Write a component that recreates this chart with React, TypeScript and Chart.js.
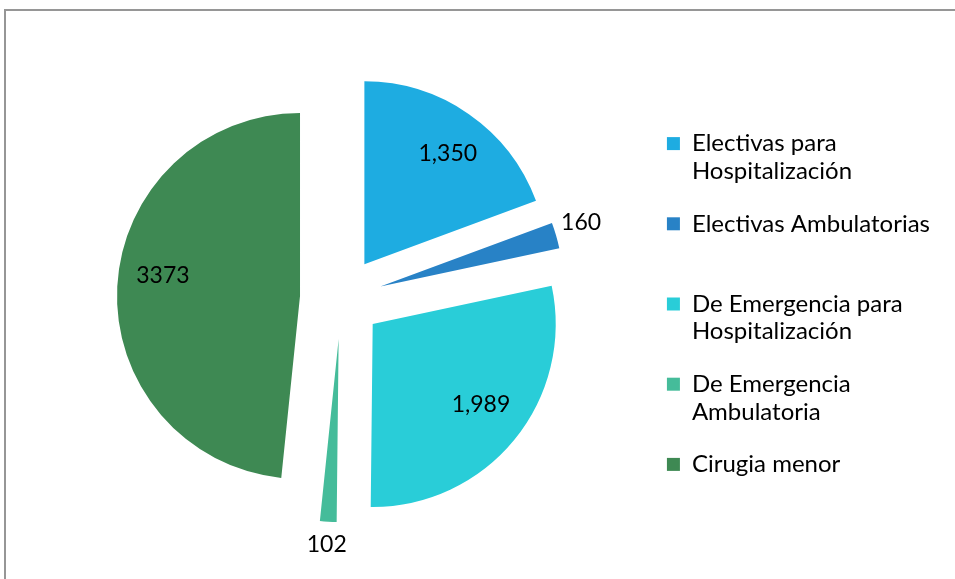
import React, { useEffect, useRef } from 'react';
import { Chart, registerables } from 'chart.js';

Chart.register(...registerables);

// ---- data ----
const categories: (string | string[])[] = [
  ['Electivas para', 'Hospitalización'],
  ['Electivas Ambulatorias', ''],
  ['De Emergencia para', 'Hospitalización'],
  ['De Emergencia', 'Ambulatoria'],
  'Cirugia menor',
];
const values = [1350, 160, 1989, 102, 3373];
const valueLabels = ['1,350', '160', '1,989', '102', '3373'];
const colors = ['#1EACE1', '#2882C6', '#29CDD8', '#45BC9A', '#3E8953'];

// ---- style ----
const EXPLODE = 41;
const RADIUS = 183;
const FONT = 'Lato';
// small visual nudges of the value labels (px)
const labelNudgeX = [5, 0, 2, 0, 0];
const labelNudgeY = [2, -6, -6, -3, -13];

const explodePlugin = {
  id: 'explode',
  afterDatasetUpdate(chart: any, args: any) {
    args.meta.data.forEach((arc: any) => {
      const mid = (arc.startAngle + arc.endAngle) / 2;
      arc.x += Math.cos(mid) * EXPLODE;
      arc.y += Math.sin(mid) * EXPLODE;
    });
  },
};

const labelPlugin = {
  id: 'valueLabels',
  afterDatasetsDraw(chart: any) {
    const ctx = chart.ctx;
    const meta = chart.getDatasetMeta(0);
    const total = values.reduce((a, b) => a + b, 0);
    ctx.save();
    ctx.font = `23px ${FONT}`;
    ctx.fillStyle = '#000';
    ctx.textAlign = 'center';
    ctx.textBaseline = 'middle';
    meta.data.forEach((arc: any, i: number) => {
      const mid = (arc.startAngle + arc.endAngle) / 2;
      const frac = values[i] / total;
      const d = frac < 0.05 ? arc.outerRadius + 26 : arc.outerRadius * 0.75;
      ctx.fillText(
        valueLabels[i],
        arc.x + Math.cos(mid) * d + labelNudgeX[i],
        arc.y + Math.sin(mid) * d + labelNudgeY[i]
      );
    });
    ctx.restore();
  },
};

export default function App() {
  const ref = useRef<HTMLCanvasElement | null>(null);

  useEffect(() => {
    if (!ref.current) return;
    Chart.defaults.font.family = FONT;
    const chart = new Chart(ref.current, {
      type: 'pie',
      data: {
        labels: categories as any,
        datasets: [
          {
            data: values,
            backgroundColor: colors,
            borderWidth: 0,
            radius: RADIUS,
          } as any,
        ],
      },
      options: {
        responsive: false,
        animation: false,
        events: [],
        layout: { padding: { left: 40, right: 15, top: 17, bottom: 0 } },
        plugins: {
          legend: {
            position: 'right',
            align: 'center',
            title: {
              display: true,
              text: ' ',
              padding: { top: 11, bottom: 0 },
              font: { size: 1, lineHeight: 1 },
            },
            labels: {
              boxWidth: 13,
              boxHeight: 13,
              padding: 25,
              color: '#000',
              font: { family: FONT, size: 24, lineHeight: 1.15 },
            },
          },
          tooltip: { enabled: false },
        },
      } as any,
      plugins: [explodePlugin, labelPlugin],
    });
    return () => chart.destroy();
  }, []);

  return (
    <div
      style={{
        position: 'fixed',
        left: 0,
        top: 0,
        width: 955,
        height: 579,
        background: '#fff',
        overflow: 'hidden',
      }}
    >
      <div
        style={{
          position: 'absolute',
          left: 4,
          top: 9,
          width: 1000,
          height: 1000,
          borderLeft: '2px solid #969696',
          borderTop: '2px solid #969696',
        }}
      />
      <canvas
        ref={ref}
        width={955}
        height={579}
        style={{ position: 'absolute', left: 0, top: 0 }}
      />
    </div>
  );
}
